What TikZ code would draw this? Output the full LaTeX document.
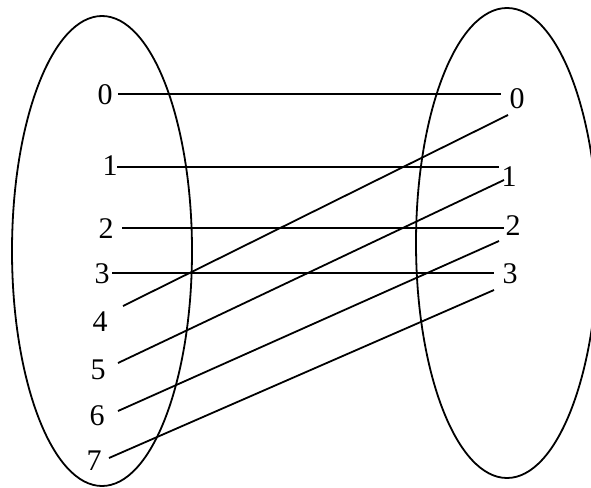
\documentclass[tikz,border=0pt]{standalone}
\usepackage{fontspec}
\setmainfont{Liberation Serif}
\begin{document}
\begin{tikzpicture}[x=1pt,y=-1pt,
  lbl/.style={inner sep=0pt,font=\fontsize{30}{34}\selectfont},
  conn/.style={line width=1.8pt},
  setell/.style={draw,line width=1.8pt}]
\useasboundingbox (0,0) rectangle (591,487);
% sets
\draw[setell] (102,251) ellipse [x radius=90, y radius=235];
\draw[setell] (507,243) ellipse [x radius=91, y radius=235];
% left labels
\node[lbl] (a0) at (105,95) {0};
\node[lbl] (a1) at (110,166) {1};
\node[lbl] (a2) at (106,229) {2};
\node[lbl] (a3) at (102,274) {3};
\node[lbl] (a4) at (100,322) {4};
\node[lbl] (a5) at (98,370) {5};
\node[lbl] (a6) at (97,416) {6};
\node[lbl] (a7) at (94,461) {7};
% right labels
\node[lbl] (b0) at (517,99) {0};
\node[lbl] (b1) at (509,177) {1};
\node[lbl] (b2) at (513,226) {2};
\node[lbl] (b3) at (510,274) {3};
% line ends
\coordinate (s0) at (118,94);  \coordinate (t0) at (501,94);
\coordinate (s1) at (117,167); \coordinate (t1) at (499,167);
\coordinate (s2) at (122,228); \coordinate (t2) at (504,228);
\coordinate (s3) at (112,273); \coordinate (t3) at (494,273);
\coordinate (s4) at (123,306); \coordinate (t4) at (508,115);
\coordinate (s5) at (118,363); \coordinate (t5) at (504,180);
\coordinate (s6) at (118,411); \coordinate (t6) at (499,241);
\coordinate (s7) at (109,458); \coordinate (t7) at (494,290);
\foreach \i in {0,...,7} \draw[conn] (s\i) -- (t\i);
\end{tikzpicture}
\end{document}
